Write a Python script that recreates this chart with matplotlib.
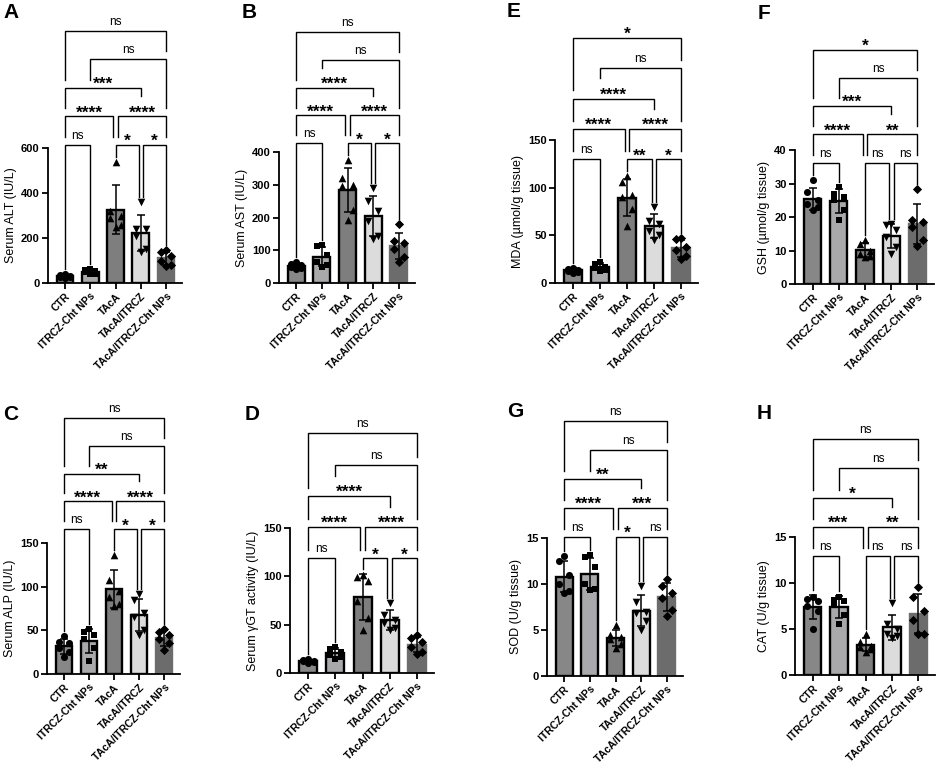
import numpy as np
import matplotlib.pyplot as plt

plt.rcParams['font.family'] = ['Liberation Sans', 'DejaVu Sans']

W, H = 941, 774

groups = ["CTR", "ITRCZ-Cht NPs", "TAcA", "TAcA/ITRCZ", "TAcA/ITRCZ-Cht NPs"]
bar_colors = ["#878787", "#a9a9ab", "#7e7e7e", "#dcdcdc", "#6c6c6c"]
edge_colors = ["black", "black", "black", "black", "#6c6c6c"]
markers = ["o", "s", "^", "v", "D"]
marker_sizes = [26, 24, 30, 30, 22]

# comparisons, drawn from the lowest row upwards
pairs = [(0, 1), (2, 3), (3, 4), (0, 2), (2, 4), (0, 3), (1, 4), (0, 4)]
pair_rows = [0, 0, 0, 1, 1, 2, 3, 4]

# A - serum ALT
alt_pts = [[38, 35, 30, 28, 25, 22], [62, 60, 55, 48, 42, 38],
           [540, 320, 300, 290, 260, 250], [360, 240, 240, 210, 150, 140],
           [145, 140, 120, 100, 80, 75]]
alt_sig = ["ns", "*", "*", "****", "****", "***", "ns", "ns"]

# B - serum AST
ast_pts = [[64, 58, 54, 50, 46, 42], [115, 112, 85, 65, 55, 50],
           [375, 320, 300, 295, 224, 191], [290, 250, 220, 190, 145, 135],
           [180, 128, 122, 105, 80, 65]]
ast_sig = ["ns", "*", "*", "****", "****", "****", "ns", "ns"]

# C - serum ALP
alp_pts = [[43, 37, 35, 30, 25, 20], [52, 48, 45, 40, 30, 15],
           [136, 108, 95, 88, 80, 78], [92, 85, 70, 65, 50, 45],
           [52, 48, 45, 40, 35, 28]]
alp_sig = ["ns", "*", "*", "****", "****", "**", "ns", "ns"]

# D - serum gamma GT
ggt_pts = [[14, 13, 12, 12, 11, 10], [27, 25, 22, 19, 17, 15],
           [101, 99, 95, 74, 57, 44], [72, 60, 55, 52, 47, 44],
           [39, 36, 32, 27, 22, 20]]
ggt_sig = ["ns", "*", "*", "****", "****", "****", "ns", "ns"]

# E - MDA
mda_pts = [[16, 15, 14, 13, 12, 11], [22, 20, 17, 16, 14, 13],
           [112, 106, 92, 90, 78, 60], [80, 65, 62, 55, 50, 45],
           [47, 46, 38, 35, 28, 25]]
mda_sig = ["ns", "**", "*", "****", "****", "****", "ns", "*"]

# F - GSH
gsh_pts = [[31, 27.5, 25, 24, 23, 22], [29, 27, 26, 25, 22, 19],
           [13, 12, 10, 9, 8.5, 8], [18, 17.5, 16, 14, 11, 9],
           [28.5, 19, 18.5, 17, 13, 11.3]]
gsh_sig = ["ns", "ns", "ns", "****", "**", "***", "ns", "*"]

# G - SOD
sod_pts = [[13, 12.5, 11, 10, 9.2, 9], [13.1, 12.9, 11.8, 10, 9.5, 9.3],
           [5.5, 4.5, 4.2, 4, 3.5, 3], [9.8, 8, 7, 6.8, 6, 5],
           [10.5, 9.8, 9, 8.5, 7.2, 6.5]]
sod_sig = ["ns", "*", "ns", "****", "***", "**", "ns", "ns"]

# H - CAT
cat_pts = [[8.5, 8.3, 8, 7.5, 7, 5], [8.5, 8.2, 8, 7.7, 6.5, 5.5],
           [4.5, 3.6, 3.2, 3, 2.8, 2.5], [7.8, 5.5, 5, 4.5, 4.2, 4],
           [9.6, 8.5, 7, 6, 4.5, 4.5]]
cat_sig = ["ns", "ns", "ns", "***", "**", "*", "ns", "ns"]

# layout in pixels: (axis left, axis right, y of zero, y of top tick)
panels = [
    dict(letter="A", ylabel="Serum ALT (IU/L)", pts=alt_pts, sig=alt_sig, ymax=600, ystep=200,
         rect=(48, 182, 283, 148), base=145, step=28.6, lpos=(3, 3)),
    dict(letter="B", ylabel="Serum AST (IU/L)", pts=ast_pts, sig=ast_sig, ymax=400, ystep=100,
         rect=(279, 415, 283, 152), base=143.3, step=27.8, lpos=(242, 3)),
    dict(letter="C", ylabel="Serum ALP (IU/L)", pts=alp_pts, sig=alp_sig, ymax=150, ystep=50,
         rect=(47, 180, 674, 543), base=529.3, step=27.8, lpos=(3, 405)),
    dict(letter="D", ylabel="Serum γGT activity (IU/L)", pts=ggt_pts, sig=ggt_sig, ymax=150, ystep=50,
         rect=(290, 434, 673, 528), base=558.3, step=31.2, lpos=(245, 405)),
    dict(letter="E", ylabel="MDA (µmol/g tissue)", pts=mda_pts, sig=mda_sig, ymax=150, ystep=50,
         rect=(555, 698, 283, 140), base=159.3, step=30.4, lpos=(507, 2)),
    dict(letter="F", ylabel="GSH (µmol/g tissue)", pts=gsh_pts, sig=gsh_sig, ymax=40, ystep=10,
         rect=(795, 934, 284, 150), base=162.7, step=28.3, lpos=(758, 4)),
    dict(letter="G", ylabel="SOD (U/g tissue)", pts=sod_pts, sig=sod_sig, ymax=15, ystep=5,
         rect=(547, 683, 676, 538), base=536.7, step=28.9, lpos=(507, 402)),
    dict(letter="H", ylabel="CAT (U/g tissue)", pts=cat_pts, sig=cat_sig, ymax=15, ystep=5,
         rect=(795, 935, 675, 537), base=556, step=29.2, lpos=(757, 404)),
]

spread = np.array([0.0, -0.2, 0.2, -0.2, 0.2, 0.0])

fig = plt.figure(figsize=(W / 100, H / 100), dpi=100)

for p in panels:
    L, R, y0, yt = p["rect"]
    ax = fig.add_axes([L / W, 1 - y0 / H, (R - L) / W, (y0 - yt) / H])
    per_px = p["ymax"] / (y0 - yt)
    pts = [np.array(v, dtype=float) for v in p["pts"]]
    means = np.array([v.mean() for v in pts])
    sds = np.array([v.std(ddof=1) for v in pts])
    x = np.arange(len(groups))

    ax.bar(x, means, width=0.66, color=bar_colors, edgecolor=edge_colors, linewidth=1.7, zorder=2)
    ax.errorbar(x, means, yerr=sds, fmt="none", ecolor="black", elinewidth=1.1,
                capsize=3, capthick=1.1, zorder=3)
    for i, v in enumerate(pts):
        order = np.argsort(-v)
        xs = np.empty(len(v))
        xs[order] = i + spread[:len(v)]
        ax.scatter(xs, v, marker=markers[i], s=marker_sizes[i], color="black",
                   linewidths=0, zorder=4, clip_on=False)

    ax.set_xlim(-0.67, 4.63)
    ax.set_ylim(0, p["ymax"])
    ax.set_yticks(np.arange(0, p["ymax"] + 1, p["ystep"]))
    ax.set_xticks(x)
    ax.set_xticklabels(groups, rotation=45, ha="right", rotation_mode="anchor",
                       fontweight="bold", fontsize=7.5)
    for t in ax.get_yticklabels():
        t.set_fontweight("bold")
    ax.tick_params(axis="y", labelsize=8, width=1.3, length=4, pad=2)
    ax.tick_params(axis="x", width=1.3, length=4, pad=2)
    ax.set_ylabel(p["ylabel"], fontsize=9, labelpad=3)
    for s in ("top", "right"):
        ax.spines[s].set_visible(False)
    for s in ("left", "bottom"):
        ax.spines[s].set_linewidth(1.3)

    # significance brackets
    row_px = [p["base"] - k * p["step"] for k in range(5)]
    tops = np.maximum([v.max() for v in pts], means + sds)

    def px_to_data(py):
        return (y0 - py) * per_px

    for (a, b), k, lab in zip(pairs, pair_rows, p["sig"]):
        xa, xb = float(a), float(b)
        for (c, d), k2 in zip(pairs, pair_rows):
            if k2 == k and (c, d) != (a, b):
                if c == b:
                    xb -= 0.09
                if d == a:
                    xa += 0.09

        def leg_end(g):
            end = y0 - tops[g] / per_px - 5
            for (c, d), k2, lab2 in zip(pairs, pair_rows, p["sig"]):
                if k2 < k and c <= g <= d:
                    half = 0.13 * len(lab2) + 0.1
                    if abs(g - (c + d) / 2) < half:
                        end = min(end, row_px[k2] - 20)
                    else:
                        end = min(end, row_px[k2] - 8)
            return px_to_data(end)

        yl = px_to_data(row_px[k])
        ax.plot([xa, xa, xb, xb], [leg_end(a), yl, yl, leg_end(b)], color="black",
                lw=1.0, clip_on=False, zorder=5, solid_joinstyle="miter")
        if lab == "ns":
            ax.text((xa + xb) / 2, yl + 6 * per_px, lab, ha="center", va="baseline",
                    fontsize=8.5)
        else:
            ax.text((xa + xb) / 2, yl - 1 * per_px, lab, ha="center", va="baseline",
                    fontsize=12.5, fontweight="bold")

    fig.text(p["lpos"][0] / W, 1 - p["lpos"][1] / H, p["letter"], ha="left", va="top",
             fontsize=15, fontweight="bold")

fig.savefig("out.png", dpi=100)
